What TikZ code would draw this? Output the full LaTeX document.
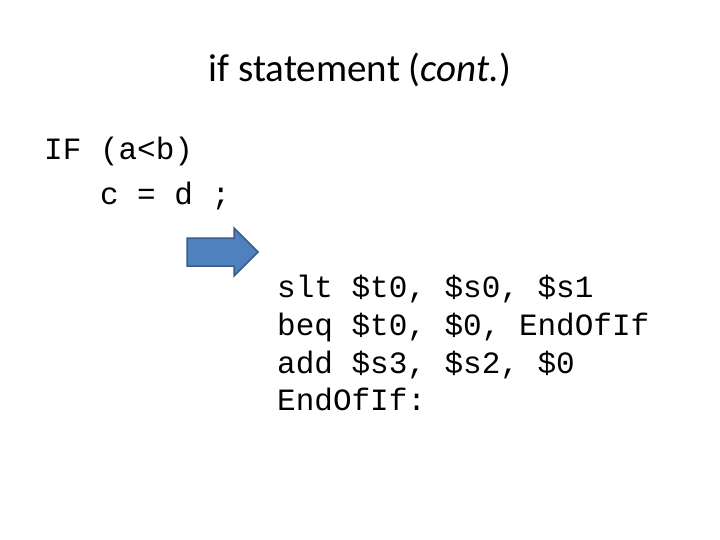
\documentclass[tikz,border=0pt]{standalone}
\usepackage{fontspec}
\setmainfont{Carlito}
\newfontfamily\codefont{Liberation Mono}
\begin{document}
\begin{tikzpicture}[x=1pt,y=-1pt,
  code/.style={anchor=base west,inner sep=0pt,font=\codefont\fontsize{31}{31}\selectfont}]
\useasboundingbox (0,0) rectangle (720,540);
\node[anchor=base,inner sep=0pt,font=\fontsize{39}{39}\selectfont] (title) at (360,82) {if statement (\textit{cont.})};
\node[code] (l1) at (44,160) {IF (a<b)};
\node[code] (l2) at (44,205) {~~~c = d ;};
\node[code] (l3) at (277,297) {slt \$t0, \$s0, \$s1};
\node[code] (l4) at (277,335) {beq \$t0, \$0, EndOfIf};
\node[code] (l5) at (277,373) {add \$s3, \$s2, \$0};
\node[code] (l6) at (277,410) {EndOfIf:};
\draw[fill={rgb,255:red,79;green,129;blue,189},draw={rgb,255:red,56;green,93;blue,138},line width=1.5pt]
 (187,238) -- (234,238) -- (234,228) -- (258,252) -- (234,276) -- (234,266) -- (187,266) -- cycle;
\end{tikzpicture}
\end{document}
